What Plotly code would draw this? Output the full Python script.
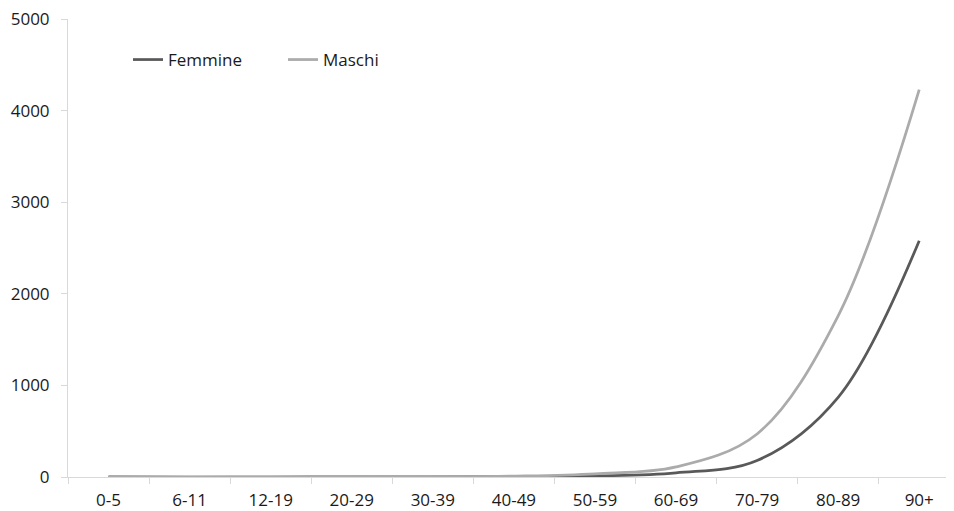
import plotly.graph_objects as go

categories = ["0-5", "6-11", "12-19", "20-29", "30-39", "40-49", "50-59", "60-69", "70-79", "80-89", "90+"]
femmine = [1, 0, 0, 1, 2, 5, 12, 45, 180, 870, 2580]
maschi = [1, 0, 1, 1, 3, 10, 35, 110, 470, 1760, 4230]

FONT = "Open Sans"
OFF = 8  # default page body margin

fig = go.Figure()
fig.add_trace(go.Scatter(x=categories, y=femmine, name="Femmine", mode="lines",
                         line=dict(color="#595959", width=2.75, shape="spline", smoothing=1.0)))
fig.add_trace(go.Scatter(x=categories, y=maschi, name="Maschi", mode="lines",
                         line=dict(color="#ababab", width=2.75, shape="spline", smoothing=1.0)))

W, H = 954 - OFF, 511 - OFF
L, R, T, B = 68 - OFF, 0, 19 - OFF, 34
pw = W - L - R
ph = H - T - B
cat_px = 81.07

fig.update_layout(
    width=W, height=H,
    margin=dict(l=L, r=R, t=T, b=B, autoexpand=False),
    paper_bgcolor="white", plot_bgcolor="white",
    font=dict(family=FONT, size=17, color="#1a1a1a"),
    showlegend=True,
    legend=dict(orientation="h", x=(128 - 68) / pw, xanchor="left",
                y=(477 - 42) / ph, yanchor="top",
                entrywidth=110, entrywidthmode="pixels",
                bgcolor="rgba(0,0,0,0)", font=dict(family=FONT, size=17, color="#1a1a1a"),
                itemclick=False),
    xaxis=dict(type="category", range=[-0.5, -0.5 + pw / cat_px], automargin=False,
               showline=True, linecolor="#d9d9d9", linewidth=1,
               ticks="outside", ticklen=6, tickcolor="#d9d9d9", tickson="boundaries",
               ticklabelstandoff=8, ticklabeloverflow="allow",
               showgrid=False, zeroline=False, tickfont=dict(size=17)),
    yaxis=dict(range=[0, 5000], tickvals=[0, 1000, 2000, 3000, 4000, 5000], automargin=False,
               showline=True, linecolor="#d9d9d9", linewidth=1,
               ticks="outside", ticklen=6, tickcolor="#d9d9d9",
               ticklabelstandoff=8, ticklabeloverflow="allow",
               showgrid=False, zeroline=False, tickfont=dict(size=17)),
)

fig.write_html("out.html")
